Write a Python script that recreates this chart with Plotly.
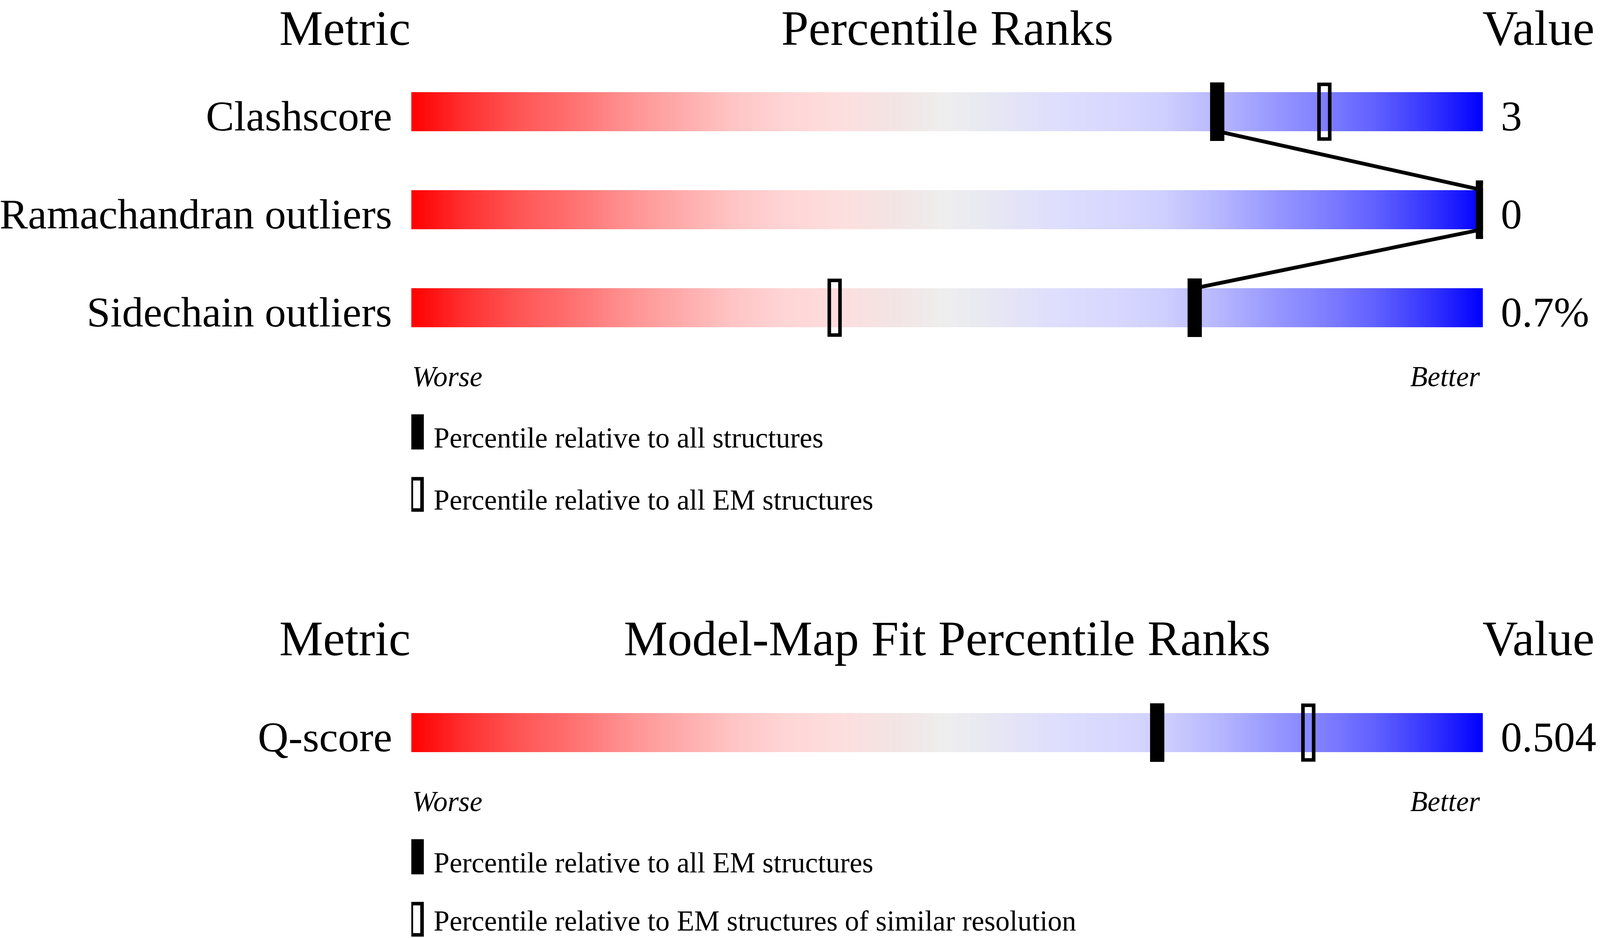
import numpy as np
import plotly.graph_objects as go

# ---------------- data ----------------
top_metrics = ["Clashscore", "Ramachandran outliers", "Sidechain outliers"]
top_values = ["3", "0", "0.7%"]
top_pct_all = [75.2, 100.0, 73.1]          # percentile relative to all structures
top_pct_em = [85.2, 100.0, 39.5]           # percentile relative to all EM structures
top_legend = ["Percentile relative to all structures",
              "Percentile relative to all EM structures"]

bottom_metrics = ["Q-score"]
bottom_values = ["0.504"]
bottom_pct_all_em = [69.6]                 # percentile relative to all EM structures
bottom_pct_similar = [83.7]                # percentile relative to EM structures of similar resolution
bottom_legend = ["Percentile relative to all EM structures",
                 "Percentile relative to EM structures of similar resolution"]

top_title = "Percentile Ranks"
bottom_title = "Model-Map Fit Percentile Ranks"

# ---------------- layout constants ----------------
REF_W = 4485                 # reference width
W, H = 4096, 2402            # browser viewport
SX = W / REF_W               # horizontal scale to fit the viewport
FONT = "Liberation Serif"
BAR_X0, BAR_X1 = 1153, 4157  # bar extent in reference pixels
BAR_HALF = 50
MARK_HALF = 75
ROW_GAP = 251
TOP_ROW0 = 286
BOT_ROW0 = 1876
LEG_HALF = 45
F_HEAD = 138 * SX
F_LABEL = 119 * SX
F_SMALL = 80 * SX

CS = [[0.00, '#ff0000'], [0.05, '#ff3030'], [0.10, '#ff5555'], [0.15, '#ff7070'],
      [0.20, '#ff9090'], [0.25, '#ffaaaa'], [0.30, '#ffc4c4'], [0.35, '#ffd5d5'],
      [0.40, '#fddede'], [0.45, '#f3e4e4'], [0.50, '#eeeeee'], [0.55, '#e6e6f4'],
      [0.60, '#dedefd'], [0.65, '#d8d8ff'], [0.70, '#d0d0ff'], [0.75, '#b8b8ff'],
      [0.80, '#9a9aff'], [0.85, '#8080ff'], [0.90, '#6060ff'], [0.95, '#3535ff'],
      [1.00, '#0000ff']]

edges = np.linspace(0, 100, 601)
centers = (edges[:-1] + edges[1:]) / 2

fig = go.Figure()
annotations = []
shapes = []


def text(x, baseline, s, size, anchor, xshift=0, italic=False, k=0.35):
    half = 0.554 * size + 3
    y = min(max(baseline - k * size, half), H - half)   # keep the text box inside the page
    annotations.append(dict(
        x=x, y=y, xref='x', yref='y', text=s, showarrow=False,
        xanchor=anchor, yanchor='middle', xshift=xshift * SX,
        font=dict(family=FONT, size=size, color='black',
                  style='italic' if italic else 'normal')))


def bar(yc):
    fig.add_trace(go.Heatmap(x=edges, y=[yc - BAR_HALF, yc + BAR_HALF], z=[centers],
                             colorscale=CS, zmin=0, zmax=100, showscale=False,
                             hoverinfo='skip'))


def marker(p, yc, filled, half=MARK_HALF, dx=0):
    if filled:
        shapes.append(dict(type='rect', xref='x', yref='y', xsizemode='pixel', xanchor=p,
                           x0=(dx - 20) * SX, x1=(dx + 20) * SX, y0=yc - half, y1=yc + half,
                           fillcolor='black', line=dict(width=0)))
    else:
        shapes.append(dict(type='rect', xref='x', yref='y', xsizemode='pixel', xanchor=p,
                           x0=(dx - 15) * SX, x1=(dx + 15) * SX, y0=yc - half + 5, y1=yc + half - 5,
                           fillcolor='rgba(0,0,0,0)', line=dict(color='black', width=10 * SX)))


def panel(title, metrics, values, pct_filled, pct_open, legend, row0):
    head_base = row0 - 191
    text(0, head_base, "Metric", F_HEAD, 'right', k=0.39)
    text(50, head_base, title, F_HEAD, 'center', k=0.39)
    text(100, head_base, "Value", F_HEAD, 'left', xshift=-4, k=0.39)
    rows = [row0 + ROW_GAP * i for i in range(len(metrics))]
    for yc, m, v in zip(rows, metrics, values):
        bar(yc)
        text(0, yc + 51, m, F_LABEL, 'right', xshift=-52, k=0.36)
        text(100, yc + 51, v, F_LABEL, 'left', xshift=48, k=0.36)
    if len(rows) > 1:
        xs, ys = [], []
        for i, yc in enumerate(rows):
            if i > 0:
                xs.append(pct_filled[i]); ys.append(yc - BAR_HALF)
            if i < len(rows) - 1:
                xs.append(pct_filled[i]); ys.append(yc + BAR_HALF)
        fig.add_trace(go.Scatter(x=xs, y=ys, mode='lines',
                                 line=dict(color='black', width=10.5 * SX),
                                 hoverinfo='skip', showlegend=False))
    for yc, pf, po in zip(rows, pct_filled, pct_open):
        marker(po, yc, False)
        marker(pf, yc, True)
    last = rows[-1]
    text(0, last + 202, "Worse", F_SMALL, 'left', italic=True)
    text(100, last + 202, "Better", F_SMALL, 'right', xshift=-6, italic=True)
    leg1 = last + 318
    leg2 = last + 478
    marker(0, leg1, True, half=LEG_HALF, dx=15)
    marker(0, leg2, False, half=LEG_HALF, dx=15)
    text(0, last + 359, legend[0], F_SMALL, 'left', xshift=60)
    text(0, last + 518, legend[1], F_SMALL, 'left', xshift=60)


panel(top_title, top_metrics, top_values, top_pct_all, top_pct_em, top_legend, TOP_ROW0)
panel(bottom_title, bottom_metrics, bottom_values, bottom_pct_all_em, bottom_pct_similar,
      bottom_legend, BOT_ROW0)

fig.update_layout(
    width=W, height=H, margin=dict(l=0, r=0, t=0, b=0),
    paper_bgcolor='white', plot_bgcolor='white', showlegend=False,
    xaxis=dict(domain=[BAR_X0 / REF_W, BAR_X1 / REF_W], range=[0, 100],
               visible=False, fixedrange=True),
    yaxis=dict(domain=[0, 1], range=[H, 0], visible=False, fixedrange=True),
    annotations=annotations, shapes=shapes,
)

fig.write_html("out.html", config={'displayModeBar': False},
               post_script="document.body.style.margin='0';document.body.style.overflow='hidden';")
